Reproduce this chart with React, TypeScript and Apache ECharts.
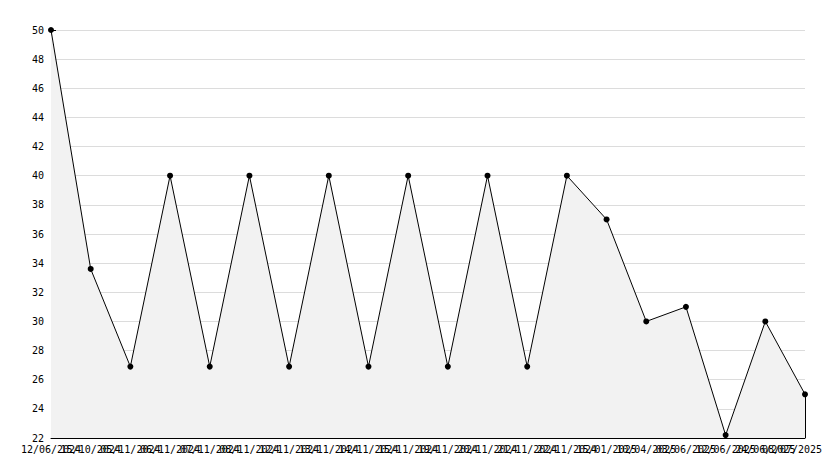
import React, { useEffect, useRef } from "react";
import * as echarts from "echarts";

const categories = [
  "12/06/2024", "15/10/2024", "05/11/2024", "06/11/2024", "07/11/2024",
  "08/11/2024", "12/11/2024", "13/11/2024", "14/11/2024", "15/11/2024",
  "19/11/2024", "20/11/2024", "21/11/2024", "22/11/2024", "15/01/2025",
  "10/04/2025", "03/06/2025", "12/06/2025", "24/06/2025", "08/07/2025",
];
const values = [50, 33.6, 26.9, 40, 26.9, 40, 26.9, 40, 26.9, 40, 26.9, 40, 26.9, 40, 37, 30, 31, 22.2, 30, 25];
const yMin = 22;
const yMax = 50;
const yInterval = 2;

const FONT = "DejaVu Sans Mono";

export default function App() {
  const ref = useRef<HTMLDivElement>(null);
  useEffect(() => {
    const chart = echarts.init(ref.current!, null, { renderer: "svg" });
    const lastIdx = values.length - 1;
    chart.setOption({
      animation: false,
      backgroundColor: "#ffffff",
      grid: { left: 51, right: 29, top: 30, bottom: 30, containLabel: false, outerBoundsMode: "none" },
      xAxis: {
        type: "category",
        data: categories,
        boundaryGap: false,
        axisLine: { lineStyle: { color: "#000", width: 1 } },
        axisTick: { show: true, inside: true, length: 5, interval: 0, lineStyle: { color: "#000" } },
        axisLabel: {
          interval: 0,
          hideOverlap: false,
          color: "#000",
          fontFamily: FONT,
          fontSize: 10,
          margin: 6,
          formatter: (v: string, i: number) => (i === lastIdx ? "{last|" + v + "}" : v),
          rich: {
            last: { fontFamily: FONT, fontSize: 10, color: "#000", padding: [0, 26, 0, 0] },
          },
        },
        splitLine: { show: false },
      },
      yAxis: {
        type: "value",
        min: yMin,
        max: yMax,
        interval: yInterval,
        axisLine: { show: true, lineStyle: { color: "#000", width: 1 } },
        axisTick: { show: true, inside: true, length: 5, lineStyle: { color: "#000" } },
        minorTick: { show: true, splitNumber: 2, length: 3, lineStyle: { color: "#000" } },
        axisLabel: { color: "#000", fontFamily: FONT, fontSize: 10, margin: 7 },
        splitLine: { show: true, lineStyle: { color: "#dcdcdc", width: 1 } },
      },
      series: [
        {
          type: "line",
          data: values,
          symbol: "circle",
          symbolSize: 6,
          itemStyle: { color: "#000" },
          lineStyle: { color: "#000", width: 1 },
          areaStyle: { color: "#f2f2f2", opacity: 1, origin: "start" },
          z: 3,
          markLine: {
            silent: true,
            symbol: ["none", "none"],
            label: { show: false },
            lineStyle: { color: "#000", width: 1, type: "solid" },
            data: [[{ coord: [lastIdx, values[lastIdx]] }, { coord: [lastIdx, yMin] }]],
          },
        },
      ],
    });
    return () => chart.dispose();
  }, []);
  return (
    <div
      ref={ref}
      style={{ position: "fixed", left: 0, top: 0, width: 834, height: 468 }}
    />
  );
}
